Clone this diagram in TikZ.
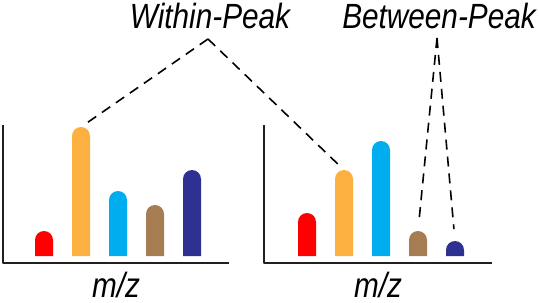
\documentclass[tikz,border=0pt]{standalone}
\usepackage{fontspec}
\newfontfamily\labelfont[FakeStretch=0.85]{Liberation Sans}
\definecolor{axisgray}{HTML}{231F20}
\definecolor{pkred}{HTML}{FF0000}
\definecolor{pkorange}{HTML}{FBB040}
\definecolor{pkcyan}{HTML}{00AEEF}
\definecolor{pkbrown}{HTML}{A67C52}
\definecolor{pknavy}{HTML}{2E3192}
% bar with round top: x, top, colour, name of top point
\newcommand\peakbar[4]{%
  \fill[#3] (#1-9,256) -- (#1-9,#2+9) arc[start angle=180,end angle=360,radius=9] -- (#1+9,256) -- cycle;
  \coordinate (#4) at (#1,#2);}
\begin{document}
\begin{tikzpicture}[x=1pt,y=-1pt, line join=round,
    axis/.style={line width=2.5pt,draw=axisgray},
    link/.style={dash pattern=on 10pt off 7pt,line width=1.6pt},
    lbl/.style={font=\labelfont\itshape\fontsize{35}{35}\selectfont,inner sep=0pt,anchor=base}]
  \useasboundingbox (0,0) rectangle (539,303);
  % left spectrum
  \draw[axis] (3,125) -- (3,263) -- (229,263);
  \peakbar{44}{231}{pkred}{a1}
  \peakbar{81}{127}{pkorange}{a2}
  \peakbar{118}{191}{pkcyan}{a3}
  \peakbar{155}{205}{pkbrown}{a4}
  \peakbar{192}{170}{pknavy}{a5}
  \node[lbl] (mzl) at (116,297) {m/z};
  % right spectrum
  \draw[axis] (264,125) -- (264,263) -- (492,263);
  \peakbar{307}{213}{pkred}{b1}
  \peakbar{344}{170}{pkorange}{b2}
  \peakbar{381}{141}{pkcyan}{b3}
  \peakbar{418}{231}{pkbrown}{b4}
  \peakbar{455}{241}{pknavy}{b5}
  \node[lbl] (mzr) at (378,297) {m/z};
  % labels
  \node[lbl] (within) at (210,28) {Within-Peak};
  \node[lbl] (between) at (439,28) {Between-Peak};
  \coordinate (wtip) at (208,39);
  \coordinate (btip) at (437,38);
  \draw[link,shorten >=4pt] (wtip) -- (a2);
  \draw[link,shorten >=7pt] (wtip) -- (b2);
  \draw[link,shorten >=13pt] (btip) -- (b4);
  \draw[link,shorten >=12pt] (btip) -- (b5);
\end{tikzpicture}
\end{document}
